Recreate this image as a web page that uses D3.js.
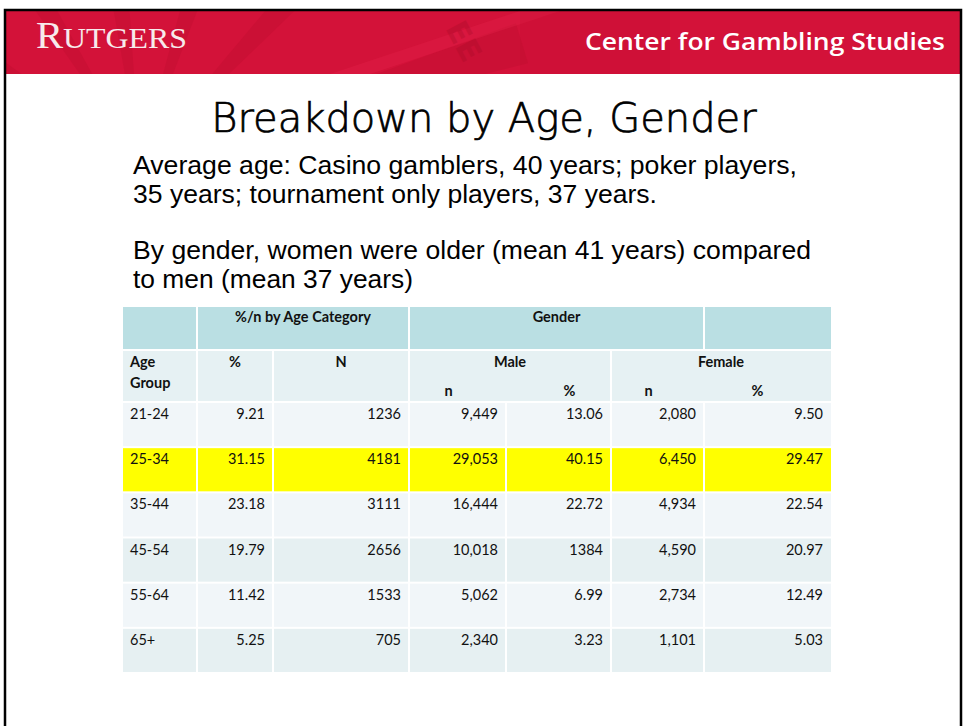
<!DOCTYPE html>
<html>
<head>
<meta charset="utf-8">
<script src="https://cdn.jsdelivr.net/npm/d3@7/dist/d3.min.js"></script>
<style>
  body { margin: 0; background: #fff; }
  svg { display: block; }
</style>
</head>
<body>
<script>
// table data
var ageGroups = ["21-24", "25-34", "35-44", "45-54", "55-64", "65+"];
var pctAge = [9.21, 31.15, 23.18, 19.79, 11.42, 5.25];
var nAge = [1236, 4181, 3111, 2656, 1533, 705];
var maleN = [9449, 29053, 16444, 10018, 5062, 2340];
var malePct = [13.06, 40.15, 22.72, 1384, 6.99, 3.23]; // 1384 is printed like that on the slide
var femaleN = [2080, 6450, 4934, 4590, 2734, 1101];
var femalePct = [9.50, 29.47, 22.54, 20.97, 12.49, 5.03];
var highlightGroup = "25-34";

var titleText = "Breakdown by Age, Gender";
var bodyLines = [
    "Average age: Casino gamblers, 40 years; poker players,",
    "35 years; tournament only players, 37 years.",
    "By gender, women were older (mean 41 years) compared",
    "to men (mean 37 years)"
];

var width = 964, height = 726;

var svg = d3.select('body').append('svg')
    .attr('width', width)
    .attr('height', height);

// *****************************
// slide frame + red banner
// *****************************
var banner = svg.append('g');

banner.append('clipPath').attr('id', 'banner-clip')
    .append('rect')
    .attr('x', 6).attr('y', 11)
    .attr('width', 954).attr('height', 63);

banner.append('rect')
    .attr('x', 6).attr('y', 11)
    .attr('width', 954).attr('height', 63)
    .attr('fill', '#d31239');

// faint texture on the left side of the banner (rays + big letters)
var texture = banner.append('g').attr('clip-path', 'url(#banner-clip)');
var rays = [[-60, -20], [-35, -10], [-10, 0], [15, 5], [40, 15], [70, 25], [110, 35], [160, 40], [230, 45]];
texture.selectAll('path.ray')
    .data(rays)
    .enter().append('path')
    .attr('class', 'ray')
    .attr('d', d => {
        var ox = 140, oy = 160;
        var a1 = (d[0] - 90) * Math.PI / 180, a2 = (d[0] - 90 + 6) * Math.PI / 180;
        var r = 400;
        return 'M' + ox + ',' + oy +
            'L' + (ox + r * Math.cos(a1)) + ',' + (oy + r * Math.sin(a1)) +
            'L' + (ox + r * Math.cos(a2)) + ',' + (oy + r * Math.sin(a2)) + 'Z';
    })
    .attr('fill', '#b00c2a')
    .attr('opacity', 0.2);

texture.append('path')
    .attr('d', 'M330,74 L520,11 L560,11 L370,74 Z')
    .attr('fill', '#e4234a')
    .attr('opacity', 0.35);

texture.append('text')
    .attr('transform', 'translate(445,28) rotate(62)')
    .attr('font-family', 'DejaVu Sans')
    .attr('font-weight', 'bold')
    .attr('font-size', 30)
    .attr('fill', '#a50a27')
    .attr('opacity', 0.3)
    .text('EE');

texture.append('rect')
    .attr('x', 520).attr('y', 11)
    .attr('width', 150).attr('height', 63)
    .attr('fill', '#b50c2c')
    .attr('opacity', 0.12);

// logo
var logo = banner.append('text')
    .attr('x', 36).attr('y', 48)
    .attr('font-family', 'Liberation Serif, serif')
    .attr('fill', '#f7eaec')
    .attr('textLength', 151)
    .attr('lengthAdjust', 'spacingAndGlyphs');
logo.append('tspan').attr('font-size', 37).text('R');
logo.append('tspan').attr('font-size', 29).text('UTGERS');

banner.append('text')
    .attr('x', 585).attr('y', 50)
    .attr('font-family', 'Open Sans, sans-serif')
    .attr('font-weight', 600)
    .attr('font-size', 24)
    .attr('fill', '#fff')
    .attr('textLength', 360)
    .attr('lengthAdjust', 'spacingAndGlyphs')
    .text('Center for Gambling Studies');

// black frame
svg.append('path')
    .attr('d', 'M5,726 L5,10 L961,10 L961,726')
    .attr('fill', 'none')
    .attr('stroke', '#000')
    .attr('stroke-width', 2.5);

// *****************************
// title + text
// *****************************
svg.append('text')
    .attr('x', 484).attr('y', 132)
    .attr('text-anchor', 'middle')
    .attr('font-family', 'DejaVu Sans, sans-serif')
    .attr('font-weight', 300)
    .attr('font-size', 40)
    .attr('fill', '#000')
    .attr('stroke', '#000')
    .attr('stroke-width', 0.7)
    .text(titleText);

var lineY = [174, 203, 259, 288];
var lineW = [664, 524, 678, 280];
svg.selectAll('text.body')
    .data(bodyLines)
    .enter().append('text')
    .attr('class', 'body')
    .attr('x', 133)
    .attr('y', (d, i) => lineY[i])
    .attr('font-family', 'Liberation Sans, Arial, sans-serif')
    .attr('font-size', 26.5)
    .attr('fill', '#000')
    .attr('textLength', (d, i) => lineW[i])
    .attr('lengthAdjust', 'spacingAndGlyphs')
    .text(d => d);

// *****************************
// table
// *****************************
var colWidths = [74, 76, 136, 97, 105, 93, 127];
var colEdges = d3.cumsum([123].concat(colWidths));
// column index -> x of its left edge (index 7 = right edge of table)
var x = d3.scaleLinear().domain(d3.range(colEdges.length)).range(colEdges);
var y = d3.scaleBand().domain(ageGroups).range([401, 672]);

var fmt2 = v => Number.isInteger(v) ? String(v) : v.toFixed(2);
var fmtComma = d3.format(',');

var columns = [
    { values: ageGroups, fmt: String, align: 'left' },
    { values: pctAge, fmt: fmt2 },
    { values: nAge, fmt: String },
    { values: maleN, fmt: fmtComma },
    { values: malePct, fmt: fmt2 },
    { values: femaleN, fmt: fmtComma },
    { values: femalePct, fmt: fmt2 }
];

var cols = { header1: '#badfe3', header2: '#e6f1f3', light: '#f1f6f9', dark: '#e6f0f2', hi: '#ffff00' };

function cellRect(g, c0, c1, top, bottom, fill) {
    var last = colEdges.length - 1;
    var left = x(c0) + (c0 > 0 ? 1 : 0);
    var right = x(c1) - (c1 < last ? 1 : 0);
    g.append('rect')
        .attr('x', left).attr('y', top)
        .attr('width', right - left).attr('height', bottom - top)
        .attr('fill', fill);
}

var table = svg.append('g')
    .attr('font-family', 'Lato, Open Sans, sans-serif')
    .attr('font-size', 14.5)
    .attr('fill', '#111');

// header row 1
var header1 = [
    { text: '', c0: 0, c1: 1 },
    { text: '%/n by Age Category', c0: 1, c1: 3 },
    { text: 'Gender', c0: 3, c1: 6 },
    { text: '', c0: 6, c1: 7 }
];
header1.forEach(h => {
    cellRect(table, h.c0, h.c1, 307, 349, cols.header1);
    table.append('text')
        .attr('x', (x(h.c0) + x(h.c1)) / 2).attr('y', 322)
        .attr('text-anchor', 'middle')
        .attr('font-weight', 'bold')
        .text(h.text);
});

// header row 2
var header2 = [
    { text: ['Age', 'Group'], c0: 0, c1: 1, align: 'left' },
    { text: ['%'], c0: 1, c1: 2 },
    { text: ['N'], c0: 2, c1: 3 },
    { text: ['Male'], c0: 3, c1: 5 },
    { text: ['Female'], c0: 5, c1: 7 }
];
header2.forEach(h => {
    cellRect(table, h.c0, h.c1, 351, 401, cols.header2);
    h.text.forEach((t, i) => {
        table.append('text')
            .attr('x', h.align == 'left' ? x(h.c0) + 7 : (x(h.c0) + x(h.c1)) / 2)
            .attr('y', 367 + i * 21)
            .attr('text-anchor', h.align == 'left' ? 'start' : 'middle')
            .attr('font-weight', 'bold')
            .text(t);
    });
});

var subLabels = [
    { text: 'n', col: 3, dx: -9 },
    { text: '%', col: 4, dx: 11 },
    { text: 'n', col: 5, dx: -9 },
    { text: '%', col: 6, dx: -10 }
];
table.selectAll('text.sub')
    .data(subLabels)
    .enter().append('text')
    .attr('class', 'sub')
    .attr('x', d => (x(d.col) + x(d.col + 1)) / 2 + d.dx)
    .attr('y', 396)
    .attr('text-anchor', 'middle')
    .attr('font-weight', 'bold')
    .text(d => d.text);

// data rows
ageGroups.forEach((grp, r) => {
    var top = y(grp) + 2, bottom = y(grp) + y.bandwidth();
    var fill = grp == highlightGroup ? cols.hi : (r % 2 == 0 ? cols.light : cols.dark);
    columns.forEach((col, c) => {
        cellRect(table, c, c + 1, top, bottom, fill);
        table.append('text')
            .attr('x', col.align == 'left' ? x(c) + 7 : x(c + 1) - 8)
            .attr('y', y(grp) + 18)
            .attr('text-anchor', col.align == 'left' ? 'start' : 'end')
            .text(col.fmt(col.values[r]));
    });
});
</script>
</body>
</html>
